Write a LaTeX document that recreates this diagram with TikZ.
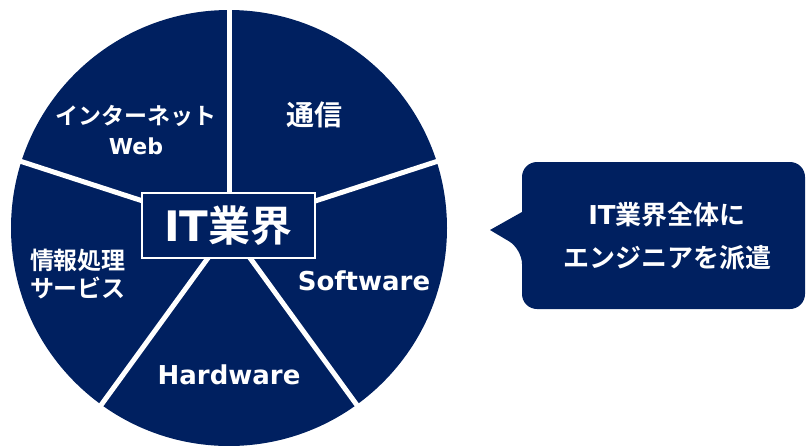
\documentclass[tikz,border=0pt]{standalone}
\usepackage{fontspec}
\usetikzlibrary{calc}
\newfontfamily\jp{Noto Sans CJK JP Bold}
\newfontfamily\lat{DejaVu Sans Bold}
\definecolor{navy}{HTML}{002060}
\begin{document}
\begin{tikzpicture}[x=1pt,y=-1pt,
  spoke/.style={draw=white,line width=5pt},
  lbl/.style={text=white,inner sep=0pt,align=center},
]
\useasboundingbox (0,0) rectangle (806,445);
\begin{scope}
\clip (0,0) rectangle (806,445);
\node[circle,fill=navy,minimum size=436pt,inner sep=0pt] (pie) at (229,228) {};
\end{scope}
\coordinate (c) at (229,229);
\coordinate (sa) at ($(c)+(-90:222)$);
\coordinate (sb) at ($(c)+(-18:222)$);
\coordinate (sc) at ($(c)+(54:222)$);
\coordinate (sd) at ($(c)+(126:222)$);
\coordinate (se) at ($(c)+(198:222)$);
\begin{scope}
\clip (0,0) rectangle (806,445);
\draw[spoke] (c) -- (sa);
\draw[spoke] (c) -- (sb);
\draw[spoke] (c) -- (sc);
\draw[spoke] (c) -- (sd);
\draw[spoke] (c) -- (se);
\end{scope}
\node[draw=white,line width=2pt,fill=navy,minimum width=173pt,minimum height=65pt,inner sep=0pt,text=white,font=\fontsize{42}{46}\selectfont] (it) at (228.5,225.5)
  {\lat IT\jp 業界};
\node[lbl,font=\fontsize{23}{30}\selectfont\jp] (web) at (136,130) {インターネット\\{\lat\fontsize{22}{30}\selectfont Web}};
\node[lbl,font=\fontsize{28}{30}\selectfont\jp] (tsu) at (314,115) {通信};
\node[lbl,font=\fontsize{26}{30}\selectfont\lat] (sw) at (364,281) {Software};
\node[lbl,font=\fontsize{26}{30}\selectfont\lat] (hw) at (229,375) {Hardware};
\node[lbl,font=\fontsize{24}{28}\selectfont\jp] (jo) at (78,274) {情報処理\\サービス};
\fill[navy,rounded corners=15pt] (660,162) -- (805,162) -- (805,309) -- (522,309) -- (522,249) [sharp corners] -- (490,230) -- (522,212) [rounded corners=15pt] -- (522,162) -- cycle;
\node[lbl,font=\fontsize{26}{43}\selectfont\jp] (call) at (667,236) {{\lat IT}業界全体に\\エンジニアを派遣};
\end{tikzpicture}
\end{document}
